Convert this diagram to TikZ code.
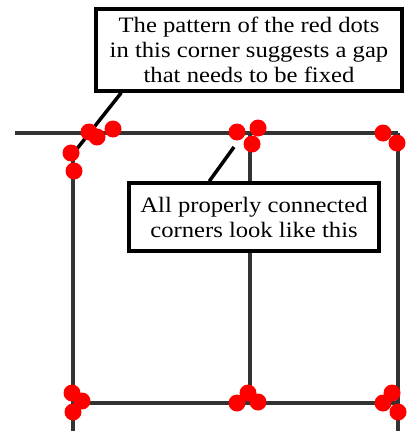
\documentclass[tikz,border=0pt]{standalone}
\usepackage{fontspec}
\setmainfont[FakeStretch=1.12]{Liberation Serif}
\begin{document}
\begin{tikzpicture}[x=1pt,y=-1pt,
  wire/.style={line width=4pt,draw=black!80},
  dot/.style={circle,fill=red,inner sep=0pt,minimum size=17pt},
  callout/.style={draw=black,line width=3.5pt,fill=white,align=center,
    font=\fontsize{22}{25}\selectfont,inner sep=0pt},
  pointer/.style={line width=3.5pt,draw=black}]
\useasboundingbox (0,0) rectangle (410,431);
% grid lines
\coordinate (tl) at (15,133);
\coordinate (tr) at (398,133);
\draw[wire] (tl) -- (tr);
\draw[wire] (73,160) -- (73,431);
\draw[wire] (250,133) -- (250,403);
\draw[wire] (398,133) -- (398,431);
\draw[wire] (73,403) -- (398,403);
% callouts
\node[callout,minimum width=306pt,minimum height=82pt] (top) at (249,50)
  {The pattern of the red dots\\in this corner suggests a gap\\that needs to be fixed};
\node[callout,minimum width=250pt,minimum height=68pt] (low) at (254,217)
  {All properly connected\\corners look like this};
\coordinate (gap) at (76,150);
\coordinate (ok) at (234,147);
\draw[pointer] (top.south west) ++(27,0) -- (gap);
\draw[pointer] (low.north west) ++(82,0) -- (ok);
% red dots
\foreach \p in {(89,132),(97,137),(113,129),(71,153),(74,171),
  (237,132),(258,128),(252,144),(383,133),(397,143),
  (72,393),(82,401),(73,412),(237,403),(248,393),(258,402),
  (392,393),(383,403),(398,412)}
  \node[dot] at \p {};
\end{tikzpicture}
\end{document}
